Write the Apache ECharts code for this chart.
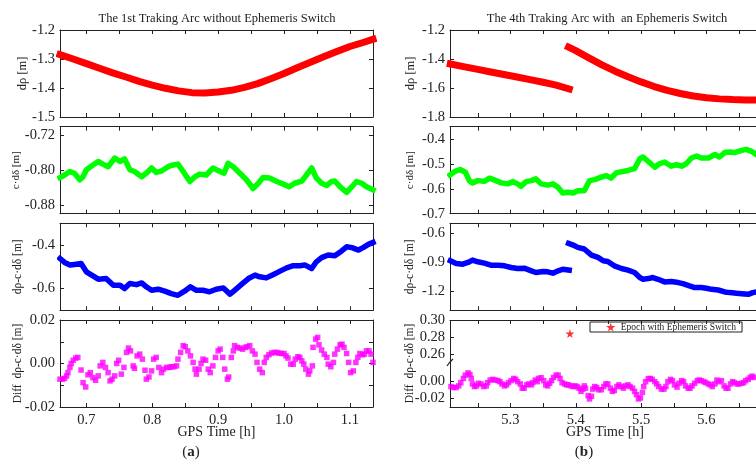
<!DOCTYPE html>
<html>
<head>
<meta charset="utf-8">
<script src="https://cdn.jsdelivr.net/npm/echarts@6/dist/echarts.min.js"></script>
<style>
  html, body { margin: 0; padding: 0; background: #fff; }
  #main { width: 756px; height: 467px; }
</style>
</head>
<body>
<div id="main"></div>
<script>
// ---------- (a) 1st tracking arc ----------
const tRhoA = [0.66, 0.68, 0.70, 0.72, 0.74, 0.76, 0.78, 0.80, 0.82, 0.84, 0.86, 0.88, 0.90, 0.92, 0.94, 0.96, 0.98, 1.00, 1.02, 1.04, 1.06, 1.08, 1.10, 1.12, 1.135]
const dRhoA = [-1.285, -1.300, -1.316, -1.332, -1.348, -1.362, -1.377, -1.390, -1.401, -1.410, -1.416, -1.417, -1.414, -1.408, -1.398, -1.385, -1.368, -1.350, -1.330, -1.311, -1.292, -1.274, -1.257, -1.243, -1.232]

const tClkA = [0.660, 0.667, 0.675, 0.682, 0.690, 0.695, 0.700, 0.710, 0.718, 0.725, 0.733, 0.743, 0.751, 0.758, 0.766, 0.773, 0.784, 0.791, 0.799, 0.806, 0.814, 0.824, 0.832, 0.839, 0.847, 0.857, 0.865, 0.872, 0.882, 0.892, 0.903, 0.909, 0.915, 0.923, 0.933, 0.943, 0.953, 0.961, 0.968, 0.978, 0.989, 0.999, 1.008, 1.016, 1.027, 1.034, 1.042, 1.049, 1.057, 1.065, 1.072, 1.077, 1.085, 1.095, 1.103, 1.110, 1.118, 1.125, 1.135]
const cdDeltaA = [-0.817, -0.811, -0.803, -0.807, -0.822, -0.815, -0.799, -0.788, -0.780, -0.786, -0.792, -0.772, -0.780, -0.774, -0.799, -0.803, -0.815, -0.807, -0.795, -0.805, -0.802, -0.792, -0.788, -0.786, -0.803, -0.826, -0.815, -0.809, -0.811, -0.795, -0.803, -0.807, -0.784, -0.792, -0.807, -0.822, -0.842, -0.830, -0.817, -0.818, -0.826, -0.832, -0.838, -0.830, -0.825, -0.811, -0.795, -0.818, -0.830, -0.835, -0.826, -0.825, -0.838, -0.851, -0.838, -0.826, -0.830, -0.838, -0.845]

const tResA = [0.660, 0.667, 0.675, 0.682, 0.692, 0.700, 0.710, 0.718, 0.730, 0.741, 0.751, 0.758, 0.766, 0.776, 0.784, 0.791, 0.799, 0.809, 0.819, 0.829, 0.839, 0.849, 0.858, 0.867, 0.877, 0.887, 0.897, 0.908, 0.918, 0.925, 0.935, 0.946, 0.956, 0.963, 0.973, 0.984, 0.994, 1.004, 1.014, 1.024, 1.032, 1.042, 1.049, 1.057, 1.067, 1.077, 1.087, 1.095, 1.103, 1.113, 1.120, 1.128, 1.135]
const resA = [-0.462, -0.480, -0.492, -0.489, -0.485, -0.523, -0.542, -0.557, -0.554, -0.585, -0.585, -0.600, -0.577, -0.582, -0.574, -0.592, -0.608, -0.603, -0.612, -0.623, -0.631, -0.612, -0.592, -0.608, -0.608, -0.615, -0.603, -0.597, -0.626, -0.608, -0.582, -0.554, -0.538, -0.546, -0.551, -0.535, -0.520, -0.505, -0.495, -0.495, -0.492, -0.508, -0.477, -0.458, -0.446, -0.449, -0.428, -0.408, -0.412, -0.423, -0.412, -0.397, -0.388]

const tDiffA = [0.660, 0.664, 0.667, 0.670, 0.672, 0.675, 0.677, 0.680, 0.684, 0.687,
  0.692, 0.695, 0.699, 0.7025, 0.706, 0.710, 0.714, 0.718, 0.721, 0.725,
  0.729, 0.733, 0.736, 0.739, 0.743, 0.746, 0.749, 0.753, 0.757, 0.761,
  0.764, 0.767, 0.771, 0.773, 0.777, 0.781, 0.785, 0.789, 0.791, 0.795,
  0.799, 0.802, 0.806, 0.810, 0.814, 0.817, 0.822, 0.826, 0.829, 0.833,
  0.837, 0.839, 0.843, 0.847, 0.850, 0.854, 0.858, 0.862, 0.865, 0.867,
  0.871, 0.874, 0.877, 0.881, 0.885, 0.888, 0.892, 0.896, 0.900, 0.903,
  0.907, 0.910, 0.914, 0.916, 0.920, 0.923, 0.925, 0.929, 0.933, 0.937,
  0.941, 0.944, 0.948, 0.952, 0.956, 0.959, 0.963, 0.967, 0.970, 0.973,
  0.977, 0.981, 0.985, 0.989, 0.992, 0.996, 1.000, 1.003, 1.006, 1.010,
  1.014, 1.017, 1.021, 1.024, 1.027, 1.030, 1.033, 1.037, 1.039, 1.043,
  1.044, 1.048, 1.051, 1.053, 1.057, 1.061, 1.065, 1.067, 1.071, 1.075,
  1.077, 1.081, 1.085, 1.088, 1.091, 1.095, 1.098, 1.101, 1.105, 1.109,
  1.112, 1.115, 1.119, 1.122, 1.125, 1.129, 1.132, 1.135]
const diffA = [-0.0072, -0.0072, -0.0068, -0.0057, -0.0042, -0.0018, 0.0000, 0.0015, 0.0025, 0.0028,
  -0.0030, -0.0088, -0.0108, -0.0052, -0.0042, -0.0065, -0.0077, -0.0057, -0.0011, 0.0005,
  -0.0018, -0.0042, -0.0080, -0.0072, -0.0057, 0.0000, 0.0015, -0.0049, -0.0018, 0.0051,
  0.0071, 0.0058, -0.0011, -0.0022, 0.0035, 0.0043, 0.0020, -0.0031, -0.0072, -0.0062,
  -0.0034, 0.0020, 0.0028, -0.0018, -0.0042, -0.0026, -0.0018, -0.0018, -0.0015, -0.0015,
  -0.0011, 0.0020, 0.0051, 0.0082, 0.0077, 0.0058, 0.0035, 0.0005, -0.0026, -0.0049,
  -0.0026, 0.0000, 0.0020, 0.0015, -0.0026, -0.0042, -0.0011, 0.0028, 0.0058, 0.0066,
  0.0028, -0.0026, -0.0072, -0.0062, 0.0028, 0.0058, 0.0082, 0.0074, 0.0071, 0.0066,
  0.0074, 0.0077, 0.0082, 0.0058, 0.0043, 0.0005, -0.0026, -0.0042, 0.0005, 0.0028,
  0.0040, 0.0048, 0.0051, 0.0051, 0.0048, 0.0046, 0.0046, 0.0035, 0.0025, -0.0003,
  -0.0003, 0.0020, 0.0031, 0.0028, 0.0012, -0.0003, -0.0026, -0.0049, -0.0034, -0.0011,
  0.0074, 0.0112, 0.0120, 0.0086, 0.0062, 0.0043, 0.0028, -0.0003, -0.0015, 0.0005,
  0.0043, 0.0066, 0.0086, 0.0089, 0.0074, 0.0046, 0.0005, -0.0042, -0.0034, 0.0005,
  0.0028, 0.0046, 0.0040, 0.0043, 0.0058, 0.0058, 0.0043, 0.0005]

// ---------- (b) 4th tracking arc ----------
const tRhoB1 = [5.208, 5.23, 5.25, 5.27, 5.29, 5.31, 5.33, 5.35, 5.37, 5.39]
const dRhoB1 = [-1.434, -1.454, -1.472, -1.490, -1.507, -1.524, -1.542, -1.560, -1.580, -1.607]
const tRhoB2 = [5.389, 5.40, 5.42, 5.44, 5.46, 5.48, 5.50, 5.52, 5.54, 5.56, 5.58, 5.60, 5.62, 5.64, 5.66, 5.682]
const dRhoB2 = [-1.318, -1.342, -1.392, -1.440, -1.484, -1.523, -1.558, -1.590, -1.617, -1.638, -1.655, -1.667, -1.675, -1.680, -1.682, -1.683]

const tClkB = [5.2075, 5.215, 5.223, 5.231, 5.237, 5.242, 5.250, 5.260, 5.268, 5.275, 5.286, 5.296, 5.304, 5.311, 5.316, 5.324, 5.332, 5.339, 5.347, 5.357, 5.365, 5.373, 5.380, 5.388, 5.396, 5.403, 5.413, 5.421, 5.429, 5.439, 5.447, 5.454, 5.462, 5.472, 5.480, 5.490, 5.498, 5.503, 5.511, 5.521, 5.528, 5.536, 5.546, 5.554, 5.562, 5.569, 5.577, 5.585, 5.592, 5.603, 5.613, 5.620, 5.628, 5.636, 5.643, 5.654, 5.661, 5.669, 5.676]
const cdDeltaB = [-0.544, -0.530, -0.522, -0.533, -0.567, -0.576, -0.567, -0.570, -0.557, -0.564, -0.576, -0.580, -0.571, -0.580, -0.590, -0.571, -0.567, -0.560, -0.580, -0.585, -0.580, -0.594, -0.617, -0.614, -0.617, -0.608, -0.608, -0.567, -0.563, -0.553, -0.547, -0.557, -0.536, -0.530, -0.526, -0.519, -0.479, -0.472, -0.490, -0.513, -0.499, -0.492, -0.509, -0.503, -0.509, -0.499, -0.476, -0.468, -0.476, -0.476, -0.462, -0.472, -0.454, -0.452, -0.454, -0.445, -0.441, -0.449, -0.462]

const tResB1 = [5.208, 5.217, 5.227, 5.235, 5.242, 5.250, 5.260, 5.270, 5.281, 5.291, 5.301, 5.311, 5.321, 5.332, 5.339, 5.350, 5.357, 5.365, 5.373, 5.380, 5.390]
const resB1 = [-0.888, -0.916, -0.923, -0.905, -0.881, -0.898, -0.912, -0.933, -0.933, -0.940, -0.957, -0.968, -0.964, -0.992, -1.009, -0.999, -1.002, -1.016, -0.992, -0.975, -0.985]
const tResB2 = [5.389, 5.396, 5.403, 5.413, 5.424, 5.434, 5.442, 5.449, 5.459, 5.470, 5.480, 5.490, 5.498, 5.503, 5.511, 5.518, 5.526, 5.536, 5.546, 5.557, 5.564, 5.574, 5.582, 5.592, 5.600, 5.608, 5.618, 5.628, 5.636, 5.646, 5.654, 5.664, 5.671, 5.676]
const resB2 = [-0.708, -0.725, -0.749, -0.766, -0.829, -0.853, -0.888, -0.895, -0.940, -0.968, -0.985, -1.009, -1.061, -1.078, -1.072, -1.061, -1.079, -1.106, -1.103, -1.113, -1.124, -1.148, -1.165, -1.165, -1.172, -1.183, -1.190, -1.210, -1.217, -1.224, -1.228, -1.235, -1.217, -1.210]

const tDiffB = [5.209, 5.213, 5.217, 5.221, 5.224, 5.228, 5.231, 5.235, 5.238, 5.240,
  5.242, 5.245, 5.248, 5.251, 5.255, 5.259, 5.263, 5.265, 5.269, 5.273,
  5.277, 5.281, 5.284, 5.287, 5.291, 5.294, 5.297, 5.301, 5.305, 5.308,
  5.311, 5.315, 5.318, 5.321, 5.325, 5.328, 5.332, 5.334, 5.338, 5.341,
  5.343, 5.347, 5.351, 5.354, 5.357, 5.360, 5.363, 5.366, 5.370, 5.373,
  5.376, 5.379, 5.383, 5.386, 5.389, 5.393, 5.396, 5.399, 5.402, 5.405,
  5.408, 5.411, 5.413, 5.415, 5.419, 5.421, 5.424, 5.426, 5.429, 5.432,
  5.435, 5.439, 5.443, 5.446, 5.449, 5.453, 5.456, 5.459, 5.463, 5.466,
  5.470, 5.473, 5.476, 5.480, 5.483, 5.487, 5.490, 5.493, 5.496, 5.499,
  5.502, 5.504, 5.507, 5.511, 5.514, 5.517, 5.521, 5.524, 5.527, 5.531,
  5.535, 5.538, 5.541, 5.545, 5.548, 5.551, 5.555, 5.558, 5.562, 5.565,
  5.568, 5.572, 5.575, 5.578, 5.582, 5.586, 5.589, 5.592, 5.596, 5.599,
  5.603, 5.606, 5.609, 5.613, 5.616, 5.619, 5.623, 5.627, 5.630, 5.633,
  5.637, 5.640, 5.643, 5.647, 5.650, 5.654, 5.657, 5.660, 5.664, 5.667,
  5.670, 5.674]
const diffB = [-0.0058, -0.0069, -0.0069, -0.0050, -0.0012, 0.0038, 0.0077, 0.0104, 0.0085, 0.0038,
  -0.0027, -0.0058, -0.0050, -0.0019, -0.0027, -0.0058, -0.0050, -0.0012, 0.0019, 0.0027,
  0.0019, 0.0012, 0.0000, -0.0027, -0.0050, -0.0038, -0.0012, 0.0012, 0.0038, 0.0027,
  0.0000, -0.0027, -0.0077, -0.0077, -0.0038, -0.0027, -0.0038, -0.0012, 0.0019, 0.0000,
  0.0038, 0.0046, 0.0012, -0.0038, -0.0050, -0.0019, 0.0012, 0.0050, 0.0077, 0.0077,
  0.0038, -0.0012, -0.0027, -0.0038, -0.0038, -0.0050, -0.0058, -0.0050, -0.0058, -0.0077,
  -0.0115, -0.0088, -0.0050, -0.0077, -0.0165, -0.0204, -0.0173, -0.0088, -0.0058, -0.0069,
  -0.0096, -0.0096, -0.0058, -0.0027, -0.0027, -0.0077, -0.0115, -0.0104, -0.0058, -0.0038,
  -0.0058, -0.0077, -0.0050, -0.0038, -0.0058, -0.0077, -0.0115, -0.0154, -0.0204, -0.0192,
  -0.0127, -0.0058, 0.0000, 0.0035, 0.0038, 0.0027, 0.0000, -0.0027, -0.0058, -0.0088,
  -0.0088, -0.0058, 0.0000, 0.0027, 0.0012, -0.0038, -0.0065, -0.0019, 0.0012, 0.0000,
  -0.0050, -0.0077, -0.0077, -0.0050, -0.0019, 0.0012, 0.0019, 0.0012, 0.0000, -0.0012,
  -0.0027, -0.0038, -0.0058, -0.0027, 0.0019, 0.0000, 0.0012, -0.0050, -0.0077, -0.0077,
  -0.0027, 0.0000, -0.0012, -0.0027, -0.0027, -0.0019, -0.0012, 0.0012, 0.0027, 0.0050,
  0.0065, 0.0050]

// epoch of the ephemeris switch
const switchEpoch = [5.391, 0.284]

// ---------- ticks / labels ----------
const xTicksA = [0.7, 0.75, 0.8, 0.85, 0.9, 0.95, 1.0, 1.05, 1.1]
const xLabelsA = [0.7, 0.8, 0.9, 1.0, 1.1]
const xTicksB = [5.25, 5.3, 5.35, 5.4, 5.45, 5.5, 5.55, 5.6, 5.65]
const xLabelsB = [5.3, 5.4, 5.5, 5.6]
const yLabelsA1 = [-1.5, -1.4, -1.3, -1.2]
const yLabelsA2 = [-0.88, -0.80, -0.72]
const yLabelsA3 = [-0.6, -0.4]
const yLabelsA4 = [-0.02, 0, 0.02]
const yTicksA4 = [-0.02, -0.01, 0, 0.01, 0.02]
const yLabelsB1 = [-1.8, -1.6, -1.4, -1.2]
const yLabelsB2 = [-0.7, -0.6, -0.5, -0.4]
const yLabelsB3 = [-1.2, -0.9, -0.6]
const yLabelsB4 = [-0.02, 0, 0.26, 0.28, 0.30]

const FONT = 'Liberation Serif'
const INK = '#222'
const STAR = 'path://M50,0 L61,35 L98,35 L68,57 L79,91 L50,70 L21,91 L32,57 L2,35 L39,35 Z'

const tops = [30, 126.7, 223.3, 320]
const cols = [{ left: 60, width: 313, x: [0.66, 1.135], xt: xTicksA, xl: xLabelsA },
  { left: 450, width: 310, x: [5.2075, 5.682], xt: xTicksB, xl: xLabelsB }]

const panels = [
  { col: 0, row: 0, y: [-1.5, -1.2], yl: yLabelsA1, yt: yLabelsA1, dec: 1, name: 'dρ [m]', gap: 31, fs: 12.5 },
  { col: 0, row: 1, y: [-0.9, -0.7], yl: yLabelsA2, yt: yLabelsA2, dec: 2, name: 'c·dδ [m]', gap: 38, fs: 11 },
  { col: 0, row: 2, y: [-0.7, -0.3], yl: yLabelsA3, yt: yLabelsA3, dec: 1, name: 'dρ-c·dδ [m]', gap: 36, fs: 11.5 },
  { col: 0, row: 3, y: [-0.02, 0.02], yl: yLabelsA4, yt: yTicksA4, dec: 2, name: 'Diff  dρ-c·dδ [m]', gap: 36, fs: 11.5 },
  { col: 1, row: 0, y: [-1.8, -1.2], yl: yLabelsB1, yt: yLabelsB1, dec: 1, name: 'dρ [m]', gap: 33, fs: 12.5 },
  { col: 1, row: 1, y: [-0.7, -0.35], yl: yLabelsB2, yt: yLabelsB2, dec: 1, name: 'c·dδ [m]', gap: 34.5, fs: 11 },
  { col: 1, row: 2, y: [-1.4, -0.5], yl: yLabelsB3, yt: yLabelsB3, dec: 1, name: 'dρ-c·dδ [m]', gap: 34, fs: 11.5 },
  { col: 1, row: 3, y: [-0.03, 0.30], yl: yLabelsB4, yt: yLabelsB4, dec: 2, name: 'Diff  dρ-c·dδ [m]', gap: 34, fs: 11.5,
    breaks: [{ start: 0.02, end: 0.247, gap: 0 }] }
]

function pairs (xs, ys) {
  return xs.map(function (x, i) { return [x, ys[i]] })
}

const lineStyleAxis = { color: INK, width: 1 }
const labelText = { fontFamily: FONT, fontSize: 14.5, color: INK }

const grids = []
const xAxes = []
const yAxes = []
panels.forEach(function (p, i) {
  const c = cols[p.col]
  grids.push({ left: c.left, width: c.width, top: tops[p.row], height: 87, outerBoundsMode: 'none' })
  const lastRow = p.row === 3
  ;['bottom', 'top'].forEach(function (pos) {
    xAxes.push({
      type: 'value', gridIndex: i, position: pos, min: c.x[0], max: c.x[1],
      axisLine: { show: true, onZero: false, lineStyle: lineStyleAxis },
      axisTick: { show: true, inside: true, length: 4, customValues: c.xt, lineStyle: lineStyleAxis },
      axisLabel: Object.assign({ show: pos === 'bottom' && lastRow, customValues: c.xl, margin: 6,
        formatter: function (v) { return v.toFixed(1) } }, labelText),
      splitLine: { show: false },
      name: pos === 'bottom' && lastRow ? 'GPS Time [h]' : '',
      nameLocation: 'middle', nameGap: 18, nameMoveOverlap: false,
      nameTextStyle: { fontFamily: FONT, fontSize: 14, color: INK }
    })
  })
  ;['left', 'right'].forEach(function (pos) {
    const ax = {
      type: 'value', gridIndex: i, position: pos, min: p.y[0], max: p.y[1],
      axisLine: { show: true, onZero: false, lineStyle: lineStyleAxis },
      axisTick: { show: true, inside: true, length: 4, customValues: p.yt, lineStyle: lineStyleAxis },
      axisLabel: Object.assign({ show: pos === 'left', customValues: p.yl, margin: 5,
        formatter: function (v) { return v.toFixed(p.dec) } }, labelText),
      splitLine: { show: false },
      name: pos === 'left' ? p.name : '',
      nameLocation: 'middle', nameGap: p.gap, nameMoveOverlap: false,
      nameTextStyle: { fontFamily: FONT, fontSize: p.fs, color: INK }
    }
    if (p.breaks) {
      ax.breaks = p.breaks
      ax.breakArea = { show: false }
    }
    yAxes.push(ax)
  })
})

function lineSeries (panel, xs, ys, color, width) {
  return {
    type: 'line', xAxisIndex: panel * 2, yAxisIndex: panel * 2,
    data: pairs(xs, ys), showSymbol: false, symbol: 'none',
    lineStyle: { color: color, width: width, cap: 'square', join: 'round' },
    silent: true
  }
}
function dotSeries (panel, xs, ys) {
  return {
    type: 'scatter', xAxisIndex: panel * 2, yAxisIndex: panel * 2,
    data: pairs(xs, ys), symbol: 'rect', symbolSize: 5.5,
    itemStyle: { color: '#ff00ff' }, silent: true
  }
}

const series = [
  lineSeries(0, tRhoA, dRhoA, '#ff0000', 7),
  lineSeries(1, tClkA, cdDeltaA, '#00ff00', 5.5),
  lineSeries(2, tResA, resA, '#0000ff', 5.5),
  dotSeries(3, tDiffA, diffA),
  lineSeries(4, tRhoB1, dRhoB1, '#ff0000', 7),
  lineSeries(4, tRhoB2, dRhoB2, '#ff0000', 7),
  lineSeries(5, tClkB, cdDeltaB, '#00ff00', 5.5),
  lineSeries(6, tResB1, resB1, '#0000ff', 5.5),
  lineSeries(6, tResB2, resB2, '#0000ff', 5.5),
  dotSeries(7, tDiffB, diffB),
  {
    name: 'Epoch with Ephemeris Switch', type: 'scatter', xAxisIndex: 14, yAxisIndex: 14,
    data: [switchEpoch], symbol: STAR, symbolSize: 9, itemStyle: { color: '#ff0000' }, silent: true
  }
]

const titleText = { fontFamily: FONT, fontSize: 12.5, fill: INK, align: 'center', verticalAlign: 'middle' }

const option = {
  animation: false,
  backgroundColor: '#fff',
  grid: grids,
  xAxis: xAxes,
  yAxis: yAxes,
  series: series,
  legend: {
    data: ['Epoch with Ephemeris Switch'],
    left: 590, top: 322,
    padding: [0, 6, 0, 16],
    itemWidth: 10, itemHeight: 9, itemGap: 5,
    borderColor: INK, borderWidth: 1,
    textStyle: { fontFamily: FONT, fontSize: 9.5, color: INK }
  },
  graphic: [
    { type: 'text', x: 217, y: 19, style: Object.assign({ text: 'The 1st Traking Arc without Ephemeris Switch' }, titleText) },
    { type: 'text', x: 607, y: 19, style: Object.assign({ text: 'The 4th Traking Arc with  an Ephemeris Switch' }, titleText) },
    { type: 'text', x: 191, y: 452, style: { text: '({b|a})', fontFamily: FONT, fontSize: 15, fill: INK, align: 'center', verticalAlign: 'middle',
      rich: { b: { fontFamily: FONT, fontSize: 15, fontWeight: 'bold', fill: INK } } } },
    { type: 'text', x: 584, y: 452, style: { text: '({b|b})', fontFamily: FONT, fontSize: 15, fill: INK, align: 'center', verticalAlign: 'middle',
      rich: { b: { fontFamily: FONT, fontSize: 15, fontWeight: 'bold', fill: INK } } } },
    // small break mark on the broken axis
    { type: 'polyline', shape: { points: [[447, 366], [450, 362], [453, 359]] }, style: { stroke: INK, lineWidth: 1.2, fill: null } }
  ]
}

const myChart = echarts.init(document.getElementById('main'))
myChart.setOption(option)
</script>
</body>
</html>
